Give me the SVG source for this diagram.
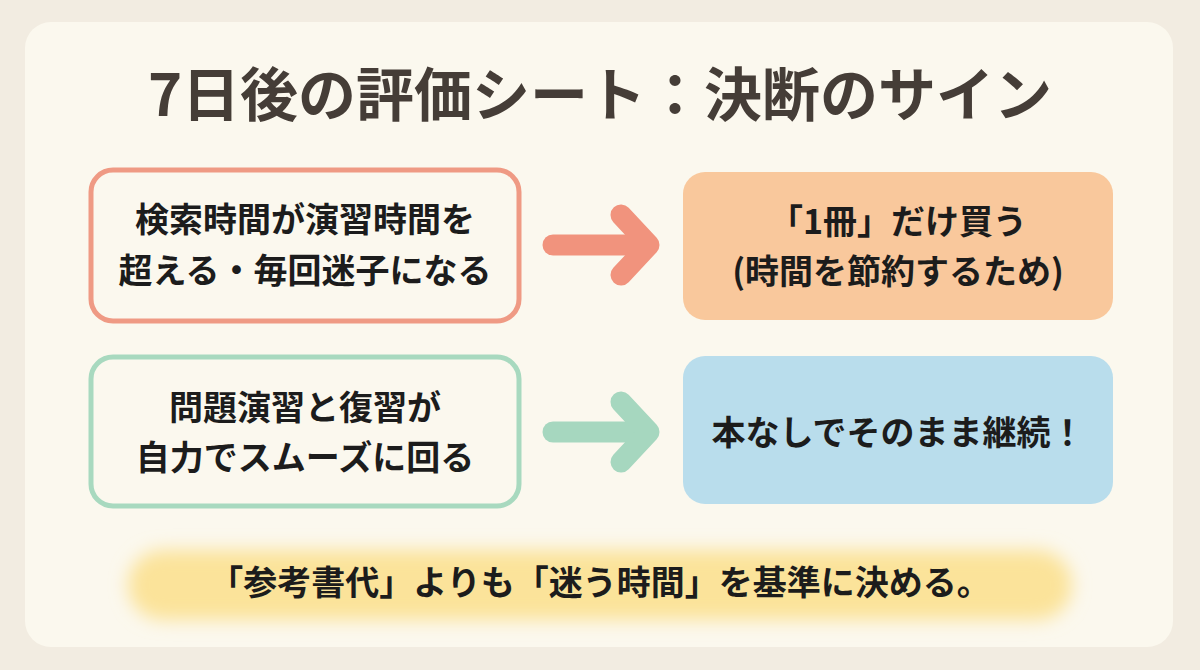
<svg xmlns="http://www.w3.org/2000/svg" width="1200" height="670" viewBox="0 0 1200 670">
<defs>
<style>
.t{font-family:"Noto Sans CJK JP","Noto Sans",sans-serif;font-weight:700;text-anchor:middle;fill:#1c1c1c}
.title{font-size:58px;fill:#453d37}
.b{font-size:34px}
.f{font-size:34px}
</style>
<filter id="glow" x="-10%" y="-50%" width="120%" height="200%"><feGaussianBlur stdDeviation="9"/></filter>
</defs>
<rect width="1200" height="670" fill="#f2ece1"/>
<rect x="25" y="22" width="1148" height="625" rx="26" fill="#fbf8ee"/>
<text class="t title" x="600" y="116">7日後の評価シート：決断のサイン</text>
<g id="connectors" fill="none" stroke-linecap="round" stroke-linejoin="round" stroke-width="21">
<g stroke="#f1937d"><line x1="553" y1="245" x2="645" y2="245"/><polyline points="621,215 649,245 621,275"/></g>
<g stroke="#a6d7bf"><line x1="553" y1="432" x2="645" y2="432"/><polyline points="621,402 649,432 621,462"/></g>
</g>
<g id="n1"><rect x="91" y="170" width="428" height="151" rx="22" fill="#fbf8ee" stroke="#ef9a84" stroke-width="5"/>
<text class="t b" x="305" y="232">検索時間が演習時間を</text><text class="t b" x="305" y="283">超える・毎回迷子になる</text></g>
<g id="n2"><rect x="683" y="172" width="430" height="148" rx="22" fill="#f9c89c"/>
<text class="t b" x="898" y="234">「1冊」だけ買う</text><text class="t b" x="898" y="284">(時間を節約するため)</text></g>
<g id="n3"><rect x="91" y="357" width="428" height="149" rx="22" fill="#fbf8ee" stroke="#a8d9bf" stroke-width="5"/>
<text class="t b" x="305" y="420">問題演習と復習が</text><text class="t b" x="305" y="470">自力でスムーズに回る</text></g>
<g id="n4"><rect x="683" y="356" width="430" height="148" rx="22" fill="#b9ddec"/>
<text class="t b" x="898" y="445">本なしでそのまま継続！</text></g>
<g id="note"><rect x="128" y="550" width="944" height="70" rx="35" fill="#fbe39a" filter="url(#glow)"/>
<text class="t f" x="600" y="595">「参考書代」よりも「迷う時間」を基準に決める。</text></g>
</svg>
